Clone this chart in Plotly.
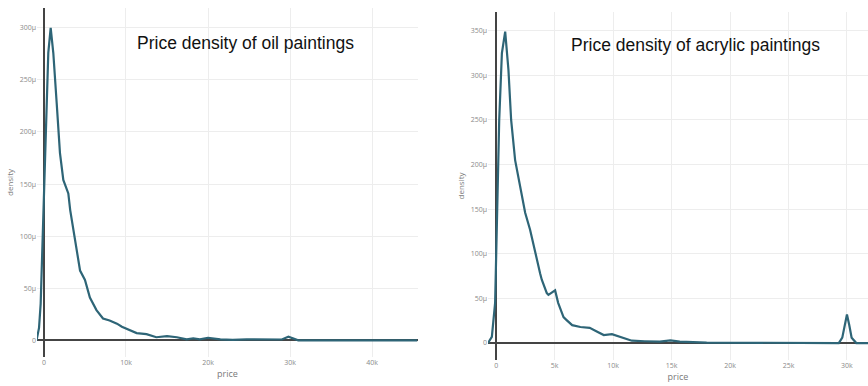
import plotly.graph_objects as go

# Kernel density estimates of painting prices (density in units of 1e-6)
oil_price = [-900, -600, -400, -80, 240, 530, 820, 1140, 1550, 1950, 2360, 2970, 3200,
             3700, 4000, 4400, 5000, 5600, 6400, 7200, 8000, 8900, 9500, 10100, 11300,
             12500, 13700, 15000, 16200, 17400, 18200, 19000, 20000, 21500, 23000,
             24700, 27000, 29000, 29800, 30500, 31000, 45500]
oil_density = [0, 12, 35, 115, 212, 276, 300, 276, 228, 180, 154, 141, 125,
               100, 88, 67, 58, 41, 29, 21, 19, 16, 13, 11, 7,
               6, 3, 4, 3, 1, 2, 1, 2.5, 1, 0.5,
               1, 1, 0.8, 3.5, 1.5, 0, 0]

acrylic_price = [-700, -370, -90, 60, 260, 490, 770, 1050, 1280, 1620, 2050, 2480, 2900,
                 3330, 3760, 3900, 4330, 4470, 5040, 5300, 5760, 6000, 6500, 7200, 8000,
                 8600, 9200, 9900, 10600, 11200, 11600, 12700, 14000, 14900, 15700,
                 18000, 22000, 26000, 29300, 29600, 29800, 30000, 30200, 30400, 30800, 31800]
acrylic_density = [0, 7, 45, 138, 250, 325, 349, 306, 250, 205, 175, 146, 127,
                   101, 78, 71, 56, 54, 59, 45, 29, 26, 20, 18, 17,
                   13, 9, 10, 7, 5, 2.6, 2, 1.5, 3, 1.5,
                   0.5, 0.3, 0.3, 0, 6, 20, 32, 20, 6, 0, 0]

titles = ["Price density of oil paintings", "Price density of acrylic paintings"]

LINE = "#2e6577"
TICK_FONT = dict(family="Open Sans, Arial, sans-serif", size=7, color="#8a8a8a")
AX_FONT = dict(family="Open Sans, Arial, sans-serif", size=9, color="#7a7a7a")
TITLE_FONT = dict(family="Liberation Sans, Arial", size=17.5, color="#111")

fig = go.Figure()
fig.add_trace(go.Scatter(x=oil_price, y=[d * 1e-6 for d in oil_density],
                         mode="lines", line=dict(color=LINE, width=2.2),
                         xaxis="x", yaxis="y", showlegend=False))
fig.add_trace(go.Scatter(x=acrylic_price, y=[d * 1e-6 for d in acrylic_density],
                         mode="lines", line=dict(color=LINE, width=2.2),
                         xaxis="x2", yaxis="y2", showlegend=False))

common = dict(showgrid=True, gridcolor="#ededed", gridwidth=1, zeroline=True,
              zerolinecolor="#444444", zerolinewidth=1.5, showline=False,
              tickfont=TICK_FONT, exponentformat="SI", automargin=False, ticks="")

fig.update_layout(
    width=868, height=386,
    margin=dict(l=0, r=0, t=0, b=0),
    paper_bgcolor="white", plot_bgcolor="white",
    xaxis=dict(domain=[0.0426, 0.4816], range=[-850, 45600], dtick=10000, anchor="y",
               title=dict(text="price", font=AX_FONT, standoff=4), **common),
    yaxis=dict(domain=[0.0751, 0.9793], range=[-16e-6, 319e-6], dtick=50e-6, anchor="x",
               title=dict(text="density", font=dict(AX_FONT, size=8), standoff=4), **common),
    xaxis2=dict(domain=[0.5622, 1.0], range=[-700, 31800], dtick=5000, anchor="y2",
                title=dict(text="price", font=AX_FONT, standoff=4), **common),
    yaxis2=dict(domain=[0.0674, 0.9689], range=[-19e-6, 371e-6], dtick=50e-6, anchor="x2",
                title=dict(text="density", font=dict(AX_FONT, size=8), standoff=4), **common),
    annotations=[
        dict(text=titles[0], x=0.283, y=0.889, xref="paper", yref="paper",
             xanchor="center", yanchor="middle", showarrow=False, font=TITLE_FONT),
        dict(text=titles[1], x=0.8007, y=0.883, xref="paper", yref="paper",
             xanchor="center", yanchor="middle", showarrow=False, font=TITLE_FONT),
    ],
)

fig.write_html("out.html")
